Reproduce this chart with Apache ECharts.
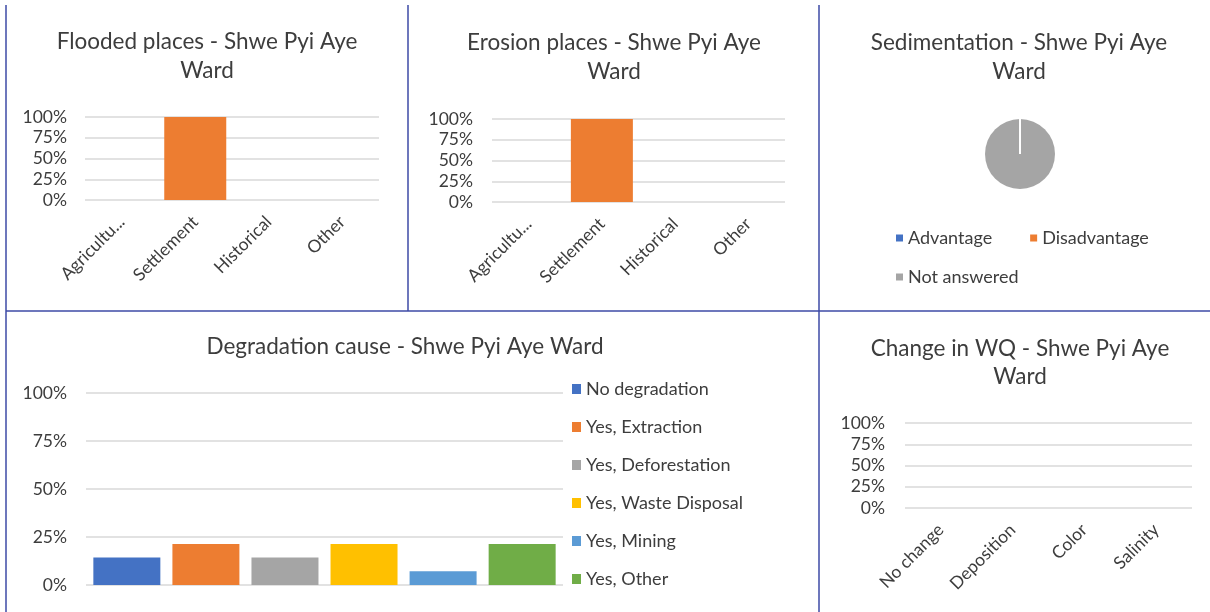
<!DOCTYPE html>
<html>
<head>
<meta charset="utf-8">
<script src="https://cdn.jsdelivr.net/npm/echarts@6/dist/echarts.min.js"></script>
<style>
  html, body { margin: 0; padding: 0; background: #ffffff; }
  #chart { width: 1210px; height: 612px; }
</style>
</head>
<body>
<div id="chart"></div>
<script>
// Survey results for Shwe Pyi Aye Ward (values in percent)
const placeCategories = ['Agriculture', 'Settlement', 'Historical', 'Other'];
const floodedValues = [0, 100, 0, 0];
const erosionValues = [0, 100, 0, 0];

const sedimentNames = ['Advantage', 'Disadvantage', 'Not answered'];
const sedimentValues = [0, 0, 100];

const degradationNames = ['No degradation', 'Yes, Extraction', 'Yes, Deforestation',
  'Yes, Waste Disposal', 'Yes, Mining', 'Yes, Other'];
const degradationValues = [14.3, 21.4, 14.3, 21.4, 7.1, 21.4];

const wqCategories = ['No change', 'Deposition', 'Color', 'Salinity'];
const wqValues = [0, 0, 0, 0];

const percentTicks = [0, 25, 50, 75, 100];

const FONT = 'Lato, "Open Sans", sans-serif';
const TEXT = '#3d3d3d';
const GRIDLINE = '#d9d9d9';
const FRAME = '#3c4aa6';
const PALETTE = ['#4472c4', '#ed7d31', '#a5a5a5', '#ffc000', '#5b9bd5', '#70ad47'];

function shorten(name) {
  return name.length > 10 ? name.slice(0, 9) + '...' : name;
}

function yAxisFor(gridIndex, margin) {
  return {
    type: 'value', gridIndex: gridIndex,
    min: percentTicks[0], max: percentTicks[percentTicks.length - 1],
    interval: percentTicks[1] - percentTicks[0],
    axisLine: { show: false }, axisTick: { show: false },
    splitLine: { lineStyle: { color: GRIDLINE, width: 1.6 } },
    axisLabel: { formatter: '{value}%', color: TEXT, fontFamily: FONT, fontSize: 17.5, margin: margin }
  };
}

function xCategoryFor(gridIndex, cats) {
  return {
    type: 'category', gridIndex: gridIndex, data: cats,
    axisLine: { show: false }, axisTick: { show: false },
    axisLabel: { rotate: 45, interval: 0, margin: 19, color: TEXT, fontFamily: FONT, fontSize: 17.5,
      formatter: shorten }
  };
}

function titleText(text, x, y, lineHeight) {
  return {
    type: 'text', silent: true,
    style: { text: text, x: x, y: y, textAlign: 'center', textVerticalAlign: 'middle',
      fill: TEXT, font: '22.5px ' + FONT, lineHeight: lineHeight }
  };
}

function frameLine(x1, y1, x2, y2) {
  return { type: 'line', silent: true, shape: { x1: x1, y1: y1, x2: x2, y2: y2 },
    style: { stroke: FRAME, lineWidth: 1.5 } };
}

const chart = echarts.init(document.getElementById('chart'), null, { renderer: 'canvas' });

const option = {
  animation: false,
  backgroundColor: '#ffffff',
  color: PALETTE,
  textStyle: { fontFamily: FONT },
  grid: [
    { left: 85, right: 831, top: 117, bottom: 412 },
    { left: 492, right: 425, top: 119, bottom: 410 },
    { left: 86, right: 647, top: 393, bottom: 27 },
    { left: 905, right: 18, top: 423, bottom: 104 }
  ],
  xAxis: [
    xCategoryFor(0, placeCategories),
    xCategoryFor(1, placeCategories),
    { type: 'category', gridIndex: 2, data: ['Degradation'], show: true,
      axisLine: { show: false }, axisTick: { show: false }, axisLabel: { show: false } },
    xCategoryFor(3, wqCategories)
  ],
  yAxis: [yAxisFor(0, 18), yAxisFor(1, 19), yAxisFor(2, 19), yAxisFor(3, 20)],
  legend: [
    { data: degradationNames, orient: 'vertical', left: 567, top: 375, itemWidth: 9, itemHeight: 10,
      itemGap: 20, icon: 'rect',
      textStyle: { color: TEXT, fontFamily: FONT, fontSize: 18, lineHeight: 18 } },
    { data: sedimentNames.slice(0, 2), orient: 'horizontal', left: 891, top: 224, itemWidth: 7, itemHeight: 7,
      itemGap: 38, icon: 'rect',
      textStyle: { color: TEXT, fontFamily: FONT, fontSize: 18, lineHeight: 18 } },
    { data: sedimentNames.slice(2), orient: 'horizontal', left: 891, top: 263, itemWidth: 7, itemHeight: 7,
      icon: 'rect',
      textStyle: { color: TEXT, fontFamily: FONT, fontSize: 18, lineHeight: 18 } }
  ],
  series: [
    { name: 'Flooded places', type: 'bar', xAxisIndex: 0, yAxisIndex: 0, data: floodedValues,
      barWidth: 62, itemStyle: { color: PALETTE[1] } },
    { name: 'Erosion places', type: 'bar', xAxisIndex: 1, yAxisIndex: 1, data: erosionValues,
      barWidth: 62, itemStyle: { color: PALETTE[1] } },
    { name: 'Sedimentation', type: 'pie', center: [1020, 154], radius: 35, startAngle: 90,
      clockwise: true, label: { show: false }, labelLine: { show: false },
      data: sedimentNames.map((n, i) => ({ name: n, value: sedimentValues[i],
        itemStyle: { color: PALETTE[i] } })) },
    ...degradationNames.map((n, i) => ({
      name: n, type: 'bar', xAxisIndex: 2, yAxisIndex: 2, data: [degradationValues[i]],
      barWidth: 67, barGap: '18%', itemStyle: { color: PALETTE[i] }
    })),
    { name: 'Change in WQ', type: 'bar', xAxisIndex: 3, yAxisIndex: 3, data: wqValues,
      barWidth: 56, itemStyle: { color: PALETTE[0] } }
  ],
  graphic: [
    frameLine(6, 5, 1210, 5),
    frameLine(6, 5, 6, 612),
    frameLine(408, 5, 408, 311),
    frameLine(819, 5, 819, 612),
    frameLine(6, 311, 1210, 311),
    titleText('Flooded places - Shwe Pyi Aye\nWard', 207, 56.5, 29),
    titleText('Erosion places - Shwe Pyi Aye\nWard', 614, 57.5, 29),
    titleText('Sedimentation - Shwe Pyi Aye\nWard', 1019, 57.5, 29),
    titleText('Degradation cause - Shwe Pyi Aye Ward', 405, 347, 24),
    titleText('Change in WQ - Shwe Pyi Aye\nWard', 1020, 363, 28)
  ]
};

chart.setOption(option);

// The empty slices (Advantage, Disadvantage) sit at the pie's start angle; draw their
// white slice border as a radial stroke, taken from the series layout.
const pieData = chart.getModel().getSeriesByName('Sedimentation')[0].getData();
const emptySlice = pieData.getItemLayout(0);
chart.setOption({
  graphic: [{
    type: 'line', silent: true, z: 10,
    shape: {
      x1: emptySlice.cx, y1: emptySlice.cy,
      x2: emptySlice.cx + emptySlice.r * Math.cos(emptySlice.startAngle),
      y2: emptySlice.cy + emptySlice.r * Math.sin(emptySlice.startAngle)
    },
    style: { stroke: '#ffffff', lineWidth: 2 }
  }]
});
</script>
</body>
</html>
